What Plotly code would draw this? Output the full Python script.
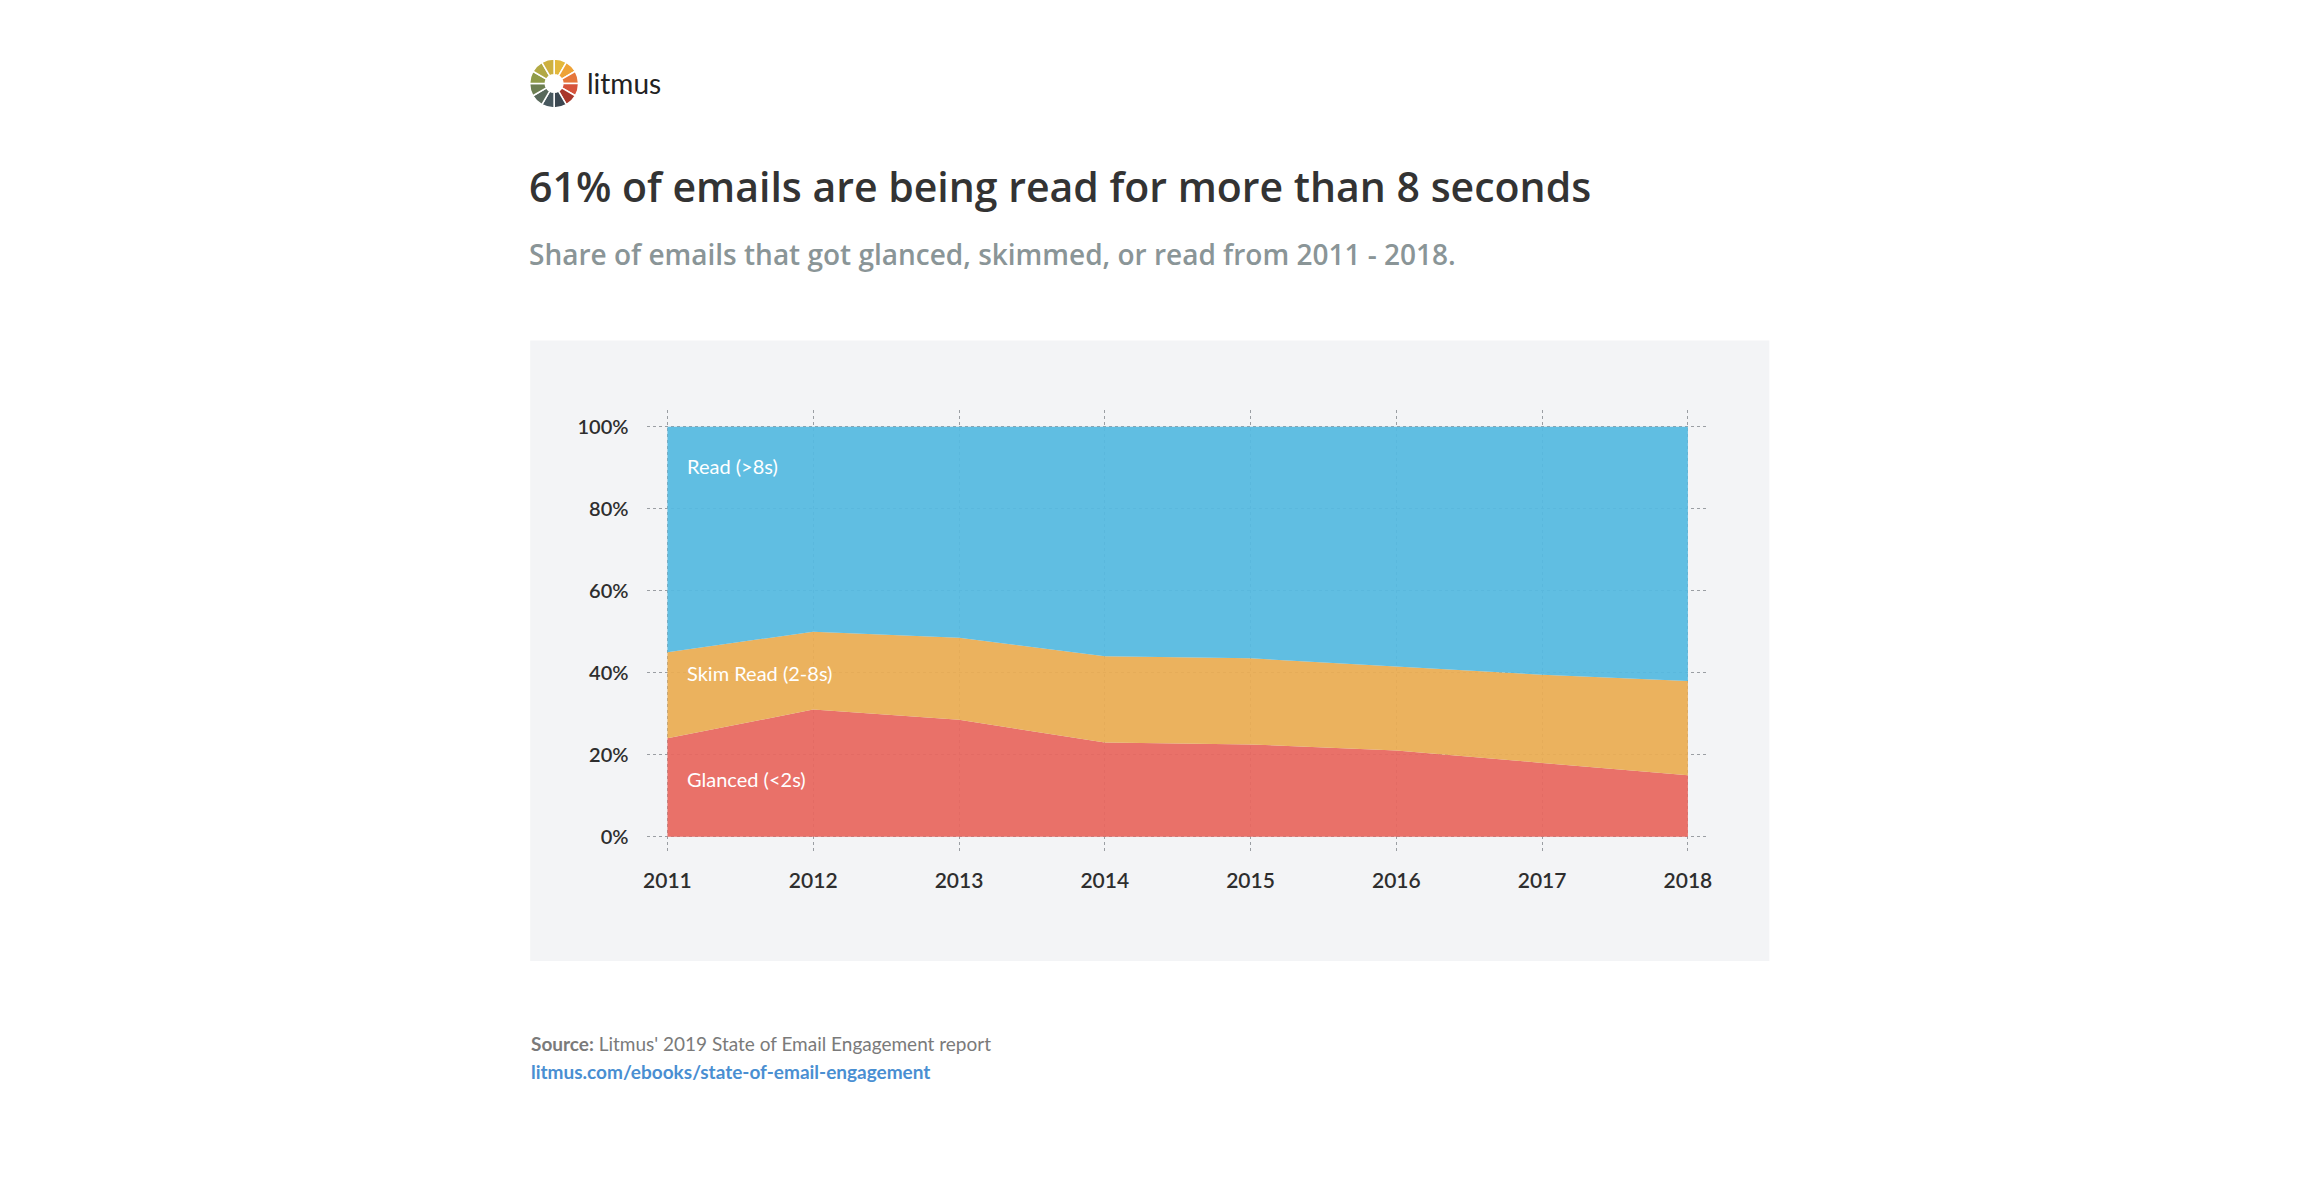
import plotly.graph_objects as go

years = [2011, 2012, 2013, 2014, 2015, 2016, 2017, 2018]
glanced = [24.0, 31.0, 28.5, 23.0, 22.5, 21.0, 18.0, 15.0]
skim = [21.0, 19.0, 20.0, 21.0, 21.0, 20.5, 21.5, 23.0]
read = [round(100 - g - s, 1) for g, s in zip(glanced, skim)]

series_names = ["Glanced (<2s)", "Skim Read (2-8s)", "Read (>8s)"]
series_colors = ["rgba(232,104,96,0.94)", "rgba(234,173,84,0.94)", "rgba(86,186,224,0.94)"]
label_y = [14, 40, 90.5]

y_ticks = [0, 20, 40, 60, 80, 100]
y_tick_text = ["0%", "20%", "40%", "60%", "80%", "100%"]

logo_colors = ["#e3b83c", "#eea236", "#e6773b", "#d6533b", "#a8372b", "#3b4751",
               "#48585f", "#58685b", "#6d7f52", "#8f9b48", "#b2a944", "#cdb03f"]

OFF = 8  # default body margin of the html page
W, H = 2300 - OFF, 1204 - OFF
FONT = "Lato"
HEAD = "Open Sans"


def px(x):
    return (x - OFF) / W


def py(y):
    return 1 - (y - OFF) / H


fig = go.Figure()

for name, vals, col in zip(series_names, [glanced, skim, read], series_colors):
    fig.add_trace(go.Scatter(
        x=years, y=vals, name=name, mode="lines", stackgroup="one",
        line=dict(width=0, color=col), fillcolor=col, hoverinfo="x+y+name",
    ))

# logo ring
fig.add_trace(go.Pie(
    values=[1] * 12, marker=dict(colors=logo_colors, line=dict(color="white", width=1.5)),
    hole=0.36, sort=False, direction="clockwise", rotation=0, textinfo="none",
    hoverinfo="skip", showlegend=False,
    domain=dict(x=[px(527), px(577)], y=[py(108), py(59)]),
))

x0, x1 = 645.7, 1709.8
y0, y1 = 853.7, 409.7

fig.update_layout(
    width=W, height=H,
    margin=dict(l=0, r=0, t=0, b=0),
    paper_bgcolor="white",
    plot_bgcolor="rgba(0,0,0,0)",
    showlegend=False,
    font=dict(family=FONT, color="#333333"),
    xaxis=dict(
        domain=[px(x0), px(x1)], range=[2011 - 0.137, 2018 + 0.137],
        tickvals=years, ticktext=[str(y) for y in years],
        showgrid=True, gridcolor="#9a9ea3", griddash="dot", gridwidth=1,
        zeroline=False, showline=False, ticks="",
        tickfont=dict(family=FONT, size=21, color="#2e2e2e", weight=600),
        ticklabelstandoff=12,
        fixedrange=True,
    ),
    yaxis=dict(
        domain=[py(y0), py(y1)], range=[-4.15, 104.15],
        tickvals=y_ticks, ticktext=y_tick_text,
        showgrid=True, gridcolor="#9a9ea3", griddash="dot", gridwidth=1,
        zeroline=False, showline=False, ticks="",
        tickfont=dict(family=FONT, size=20, color="#2e2e2e", weight=600),
        ticklabelstandoff=18,
        fixedrange=True,
    ),
    shapes=[dict(type="rect", xref="paper", yref="paper",
                 x0=px(528), x1=px(1771.5), y0=py(961), y1=py(340.5),
                 fillcolor="#f3f4f6", line=dict(width=0), layer="below")],
)

# series labels inside areas
for name, ly in zip(series_names, label_y):
    fig.add_annotation(x=2011.12, y=ly, xref="x", yref="y", text=name,
                       showarrow=False, xanchor="left", yanchor="middle",
                       font=dict(family=FONT, size=20, color="white"))

texts = [
    dict(x=583, y=83, text="litmus", size=28, color="#222222", family=FONT, weight=400),
    dict(x=525, y=186, text="61% of emails are being read for more than 8 seconds", size=41, color="#333333", family=HEAD, weight=600),
    dict(x=525, y=254, text="Share of emails that got glanced, skimmed, or read from 2011 - 2018.", size=28, color="#8a9597", family=HEAD, weight=600),
    dict(x=527, y=1043, text="<b>Source:</b> Litmus' 2019 State of Email Engagement report", size=19, color="#7a7a7a", family=FONT, weight=400),
    dict(x=527, y=1071, text="<b>litmus.com/ebooks/state-of-email-engagement</b>", size=19, color="#4a8fd2", family=FONT, weight=400),
]
for t in texts:
    fig.add_annotation(x=px(t["x"]), y=py(t["y"]), xref="paper", yref="paper",
                       text=t["text"], showarrow=False, xanchor="left", yanchor="middle",
                       font=dict(family=t["family"], size=t["size"], color=t["color"], weight=t["weight"]))

fig.write_html("out.html")
